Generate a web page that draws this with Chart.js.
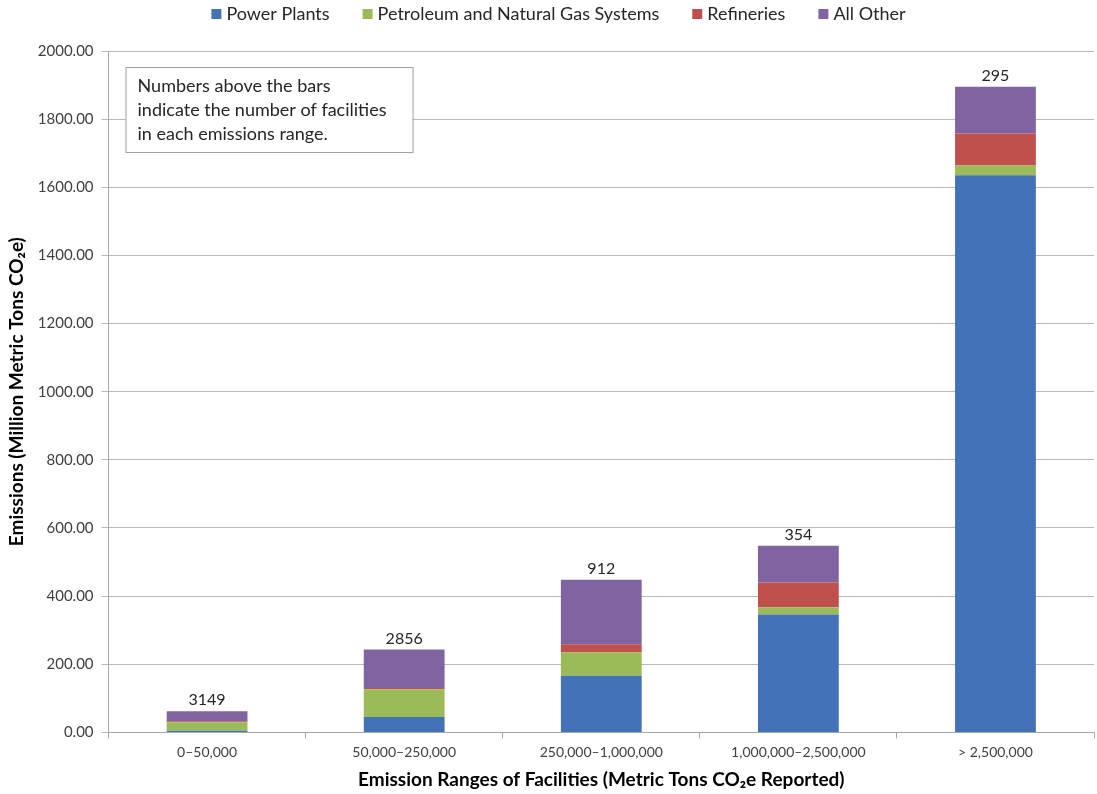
<!DOCTYPE html>
<html>
<head>
<meta charset="utf-8">
<script src="https://cdn.jsdelivr.net/npm/chart.js@4.4.1/dist/chart.umd.min.js"></script>
<style>
    body { margin: 0; background: #fff; }
    #wrap { width: 1097px; height: 794px; }
</style>
</head>
<body>
<div id="wrap"><canvas id="chart" width="1097" height="794"></canvas></div>
<script>
// emission ranges (x categories)
const ranges = ['0\u201350,000', '50,000\u2013250,000', '250,000\u20131,000,000', '1,000,000\u20132,500,000', '> 2,500,000'];

// million metric tons CO2e
const powerPlants = [5, 45, 166, 346, 1635];
const petroleumGas = [25, 82, 69, 21, 29];
const refineries = [3, 3, 24, 73, 94];
const allOther = [29, 113, 189, 108, 137];

// number of facilities above each bar
const facilityCounts = [3149, 2856, 912, 354, 295];

const noteLines = ['Numbers above the bars', 'indicate the number of facilities', 'in each emissions range.'];

const FONT = 'Lato, "Open Sans", sans-serif';
Chart.defaults.font.family = FONT;
Chart.defaults.color = '#404040';

// legend, facility counts and the note box
const extrasPlugin = {
    id: 'extras',
    afterDraw(chart) {
        const ctx = chart.ctx;
        const sets = chart.data.datasets;

        ctx.save();
        ctx.font = '18px ' + FONT;
        ctx.textBaseline = 'middle';
        ctx.textAlign = 'left';
        const gap = 33, box = 10;
        const widths = sets.map(ds => box + 5 + ctx.measureText(ds.label).width);
        const total = widths.reduce((a, b) => a + b, 0) + gap * (sets.length - 1);
        let x = chart.width / 2 + 10 - total / 2;
        sets.forEach((ds, i) => {
            ctx.fillStyle = ds.backgroundColor;
            ctx.fillRect(x, 9, box, box);
            ctx.fillStyle = '#262626';
            ctx.fillText(ds.label, x + box + 5, 14);
            x += widths[i] + gap;
        });
        ctx.restore();
    },
    afterDatasetsDraw(chart) {
        const ctx = chart.ctx;
        const area = chart.chartArea;
        const top = chart.getDatasetMeta(chart.data.datasets.length - 1);

        ctx.save();
        ctx.font = '16px ' + FONT;
        ctx.fillStyle = '#262626';
        ctx.textAlign = 'center';
        ctx.textBaseline = 'bottom';
        top.data.forEach((bar, i) => {
            ctx.fillText(String(facilityCounts[i]), bar.x, bar.y - 3);
        });

        // note box
        const bx = area.left + 17, by = area.top + 16, bw = 287, bh = 85;
        ctx.fillStyle = '#fff';
        ctx.fillRect(bx, by, bw, bh);
        ctx.strokeStyle = '#a0a0a0';
        ctx.lineWidth = 1;
        ctx.strokeRect(bx + 0.5, by + 0.5, bw, bh);
        ctx.font = '18px ' + FONT;
        ctx.fillStyle = '#262626';
        ctx.textAlign = 'left';
        ctx.textBaseline = 'middle';
        noteLines.forEach((line, i) => {
            ctx.fillText(line, bx + 12, by + 19 + i * 24);
        });
        ctx.restore();
    }
};

const ctx = document.getElementById('chart').getContext('2d');
new Chart(ctx, {
    type: 'bar',
    data: {
        labels: ranges,
        datasets: [
            { label: 'Power Plants', data: powerPlants, backgroundColor: '#4472b6' },
            { label: 'Petroleum and Natural Gas Systems', data: petroleumGas, backgroundColor: '#9bbb59' },
            { label: 'Refineries', data: refineries, backgroundColor: '#c0504d' },
            { label: 'All Other', data: allOther, backgroundColor: '#8064a2' }
        ]
    },
    options: {
        responsive: false,
        animation: false,
        layout: { padding: { left: 1, right: 3, top: 51, bottom: 3 } },
        datasets: {
            bar: { barPercentage: 0.41, categoryPercentage: 1 }
        },
        plugins: {
            legend: { display: false },
            tooltip: { enabled: false }
        },
        scales: {
            x: {
                stacked: true,
                grid: { drawOnChartArea: false, drawTicks: true, tickLength: 6, color: '#a6a6a6' },
                border: { color: '#a6a6a6' },
                ticks: { font: { size: 14 }, padding: 6 },
                title: {
                    display: true,
                    text: 'Emission Ranges of Facilities (Metric Tons CO\u2082e Reported)',
                    color: '#000',
                    font: { size: 19, weight: 'bold' },
                    padding: { top: 1, bottom: 0 }
                }
            },
            y: {
                stacked: true,
                min: 0,
                max: 2000,
                grid: { color: '#b8b8b8', tickLength: 7 },
                border: { color: '#a6a6a6' },
                ticks: {
                    stepSize: 200,
                    font: { size: 15 },
                    padding: 8,
                    callback: v => v.toFixed(2)
                },
                title: {
                    display: true,
                    text: 'Emissions (Million Metric Tons CO\u2082e)',
                    color: '#000',
                    font: { size: 19, weight: 'bold' },
                    padding: { bottom: 2 }
                }
            }
        }
    },
    plugins: [extrasPlugin]
});
</script>
</body>
</html>
